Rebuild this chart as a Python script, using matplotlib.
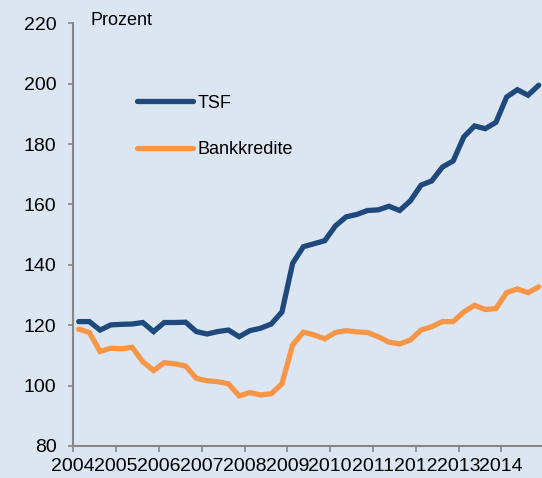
import numpy as np
import matplotlib
matplotlib.use("Agg")
import matplotlib.pyplot as plt

# quarterly values 2004Q1 .. 2014Q4, Prozent
years = list(range(2004, 2015))
tsf = [121.2, 121.2, 118.4, 120.1, 120.3, 120.4, 120.9, 117.9,
       120.9, 120.9, 121.0, 117.9, 117.1, 117.9, 118.4, 116.2,
       118.2, 119.0, 120.4, 124.4, 140.5, 146.0, 147.0, 148.0,
       152.9, 155.9, 156.7, 158.0, 158.2, 159.4, 158.0, 161.2,
       166.4, 167.8, 172.4, 174.4, 182.4, 186.0, 185.1, 187.2,
       195.6, 198.0, 196.2, 199.5]
bankkredite = [118.7, 117.6, 111.3, 112.4, 112.2, 112.7, 107.9, 105.0,
               107.6, 107.2, 106.5, 102.4, 101.6, 101.3, 100.6, 96.6,
               97.7, 96.9, 97.3, 100.6, 113.5, 117.7, 116.8, 115.5,
               117.6, 118.2, 117.8, 117.6, 116.2, 114.4, 113.8, 115.1,
               118.4, 119.5, 121.2, 121.2, 124.4, 126.6, 125.2, 125.5,
               130.8, 132.0, 130.8, 132.7]

BG = "#dce6f2"
AXC = "#868686"
plt.rcParams["font.family"] = ["Liberation Sans", "DejaVu Sans"]

W, H = 542, 478
fig = plt.figure(figsize=(W / 100, H / 100), dpi=100, facecolor=BG)
ax = fig.add_axes([73.3 / W, 32 / H, 470.8 / W, 422.7 / H], facecolor=BG)

x = np.arange(len(tsf)) + 0.5
ax.plot(x, tsf, color="#1f497d", lw=3.8, solid_joinstyle="miter",
        solid_capstyle="round", label="TSF")
ax.plot(x, bankkredite, color="#f79646", lw=3.8, solid_joinstyle="miter",
        solid_capstyle="round", label="Bankkredite")

ax.set_xlim(0, 44)
ax.set_ylim(80, 220)
ax.set_yticks(range(80, 221, 20))
ax.set_xticks([4 * i for i in range(len(years))])
ax.set_xticklabels([str(y) for y in years])

for s in ["top", "right"]:
    ax.spines[s].set_visible(False)
for s in ["left", "bottom"]:
    ax.spines[s].set_color(AXC)
    ax.spines[s].set_linewidth(1.5)
ax.tick_params(axis="y", direction="out", length=3.6, width=1.2, color=AXC,
               pad=8.5, labelsize=14, labelcolor="#000000")
ax.tick_params(axis="x", direction="out", length=4.3, width=1.2, color=AXC,
               pad=4, labelsize=14, labelcolor="#000000")

fig.text(90 / W, 1 - 25 / H, "Prozent", fontsize=13, ha="left", va="baseline")

ax.legend(loc="upper left", bbox_to_anchor=((137.3 - 73.3) / 470.8, 0.831),
          frameon=False, fontsize=13, handlelength=3.1, handletextpad=0.25,
          labelspacing=1.62, borderpad=0, borderaxespad=0)

fig.savefig("out.png", dpi=100, facecolor=BG)
